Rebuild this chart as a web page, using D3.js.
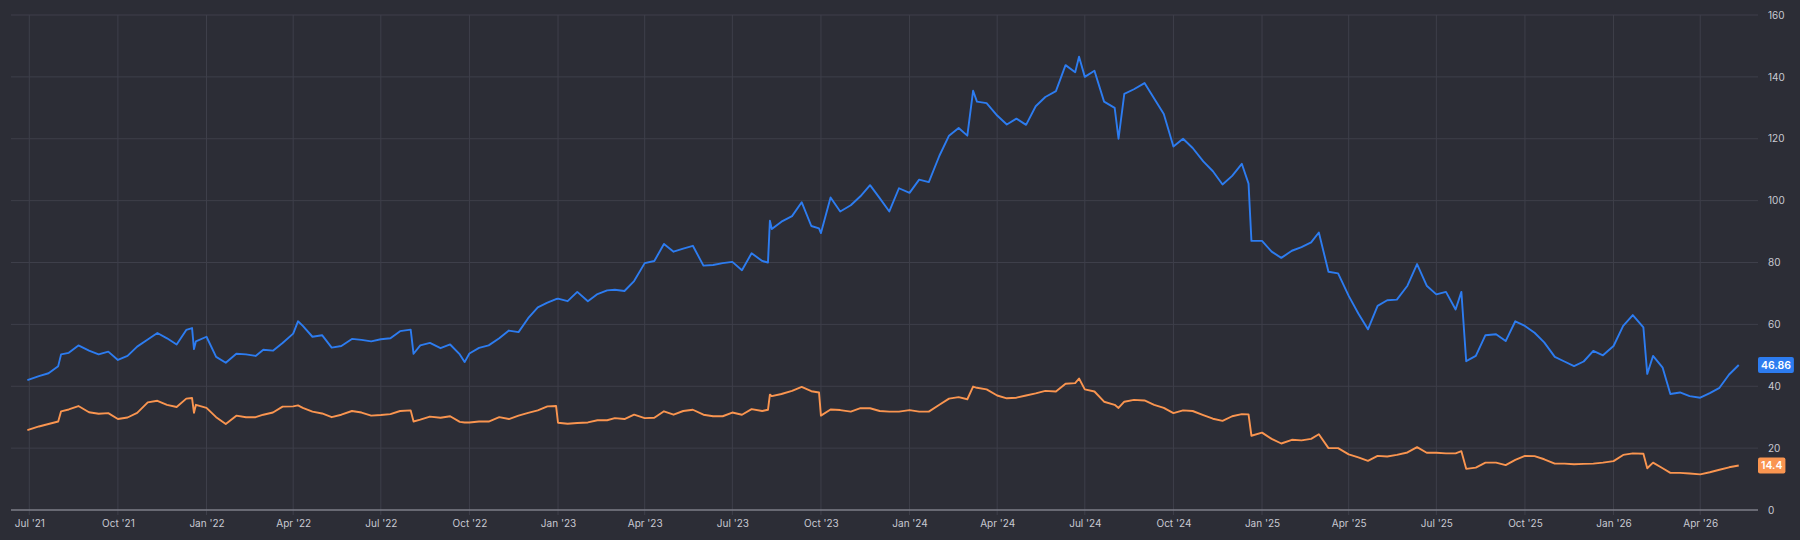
<!DOCTYPE html>
<html>
<head>
<meta charset="utf-8">
<script src="https://cdn.jsdelivr.net/npm/d3@7"></script>
<style>
  html, body { margin: 0; padding: 0; background: #2c2d36; }
  svg { display: block; }
</style>
</head>
<body>
<div id="chart"></div>
<script>
'use strict';
// two price series, sampled roughly every 10 days (plus a few extra points at the big gaps)

var dates = [
    "2021-06-29", "2021-07-11", "2021-07-21", "2021-07-31", "2021-08-03", "2021-08-11", "2021-08-21",
    "2021-09-01", "2021-09-11", "2021-09-21", "2021-10-01", "2021-10-11", "2021-10-21",
    "2021-11-01", "2021-11-11", "2021-11-21", "2021-12-01", "2021-12-11", "2021-12-17", "2021-12-19", "2021-12-21",
    "2022-01-01", "2022-01-11", "2022-01-21", "2022-02-01", "2022-02-11", "2022-02-21",
    "2022-03-01", "2022-03-11", "2022-03-21", "2022-04-01", "2022-04-06", "2022-04-11", "2022-04-21",
    "2022-05-01", "2022-05-11", "2022-05-21", "2022-06-01", "2022-06-11", "2022-06-21",
    "2022-07-01", "2022-07-11", "2022-07-21", "2022-08-01", "2022-08-04", "2022-08-11", "2022-08-21",
    "2022-09-01", "2022-09-11", "2022-09-21", "2022-09-26", "2022-10-01", "2022-10-11", "2022-10-21",
    "2022-11-01", "2022-11-11", "2022-11-21", "2022-12-01", "2022-12-11", "2022-12-21", "2022-12-30",
    "2023-01-01", "2023-01-11", "2023-01-21", "2023-02-01", "2023-02-11", "2023-02-21",
    "2023-03-01", "2023-03-11", "2023-03-21", "2023-04-01", "2023-04-11", "2023-04-21",
    "2023-05-01", "2023-05-11", "2023-05-21", "2023-06-01", "2023-06-11", "2023-06-21",
    "2023-07-01", "2023-07-11", "2023-07-21", "2023-08-01", "2023-08-07", "2023-08-09", "2023-08-11", "2023-08-21",
    "2023-09-01", "2023-09-11", "2023-09-21", "2023-09-29", "2023-10-01", "2023-10-11", "2023-10-21",
    "2023-11-01", "2023-11-11", "2023-11-21", "2023-12-01", "2023-12-11", "2023-12-21",
    "2024-01-01", "2024-01-11", "2024-01-21", "2024-02-01", "2024-02-11", "2024-02-21",
    "2024-03-01", "2024-03-07", "2024-03-11", "2024-03-21", "2024-04-01", "2024-04-11", "2024-04-21",
    "2024-05-01", "2024-05-11", "2024-05-21", "2024-06-01", "2024-06-11", "2024-06-21", "2024-06-25",
    "2024-07-01", "2024-07-11", "2024-07-21", "2024-08-01", "2024-08-05", "2024-08-11", "2024-08-21",
    "2024-09-01", "2024-09-11", "2024-09-21", "2024-10-01", "2024-10-11", "2024-10-21",
    "2024-11-01", "2024-11-11", "2024-11-21", "2024-12-01", "2024-12-11", "2024-12-18", "2024-12-21",
    "2025-01-01", "2025-01-11", "2025-01-21", "2025-02-01", "2025-02-11", "2025-02-21",
    "2025-03-01", "2025-03-11", "2025-03-21", "2025-04-01", "2025-04-11", "2025-04-21",
    "2025-05-01", "2025-05-11", "2025-05-21", "2025-06-01", "2025-06-11", "2025-06-21",
    "2025-07-01", "2025-07-11", "2025-07-21", "2025-07-27", "2025-08-01", "2025-08-11", "2025-08-21",
    "2025-09-01", "2025-09-11", "2025-09-21", "2025-10-01", "2025-10-11", "2025-10-21",
    "2025-11-01", "2025-11-11", "2025-11-21", "2025-12-01", "2025-12-11", "2025-12-21",
    "2026-01-01", "2026-01-11", "2026-01-21", "2026-02-01", "2026-02-05", "2026-02-11", "2026-02-21",
    "2026-03-01", "2026-03-11", "2026-03-21", "2026-04-01", "2026-04-11", "2026-04-21",
    "2026-05-01", "2026-05-11"
];

var blueValues = [
    42.0, 43.3, 44.2, 46.5, 50.3, 50.8, 53.2,
    51.5, 50.3, 51.2, 48.5, 49.8, 52.8,
    55.1, 57.2, 55.5, 53.5, 58.2, 58.8, 52.0, 54.5,
    56.0, 49.5, 47.6, 50.5, 50.3, 49.8,
    51.8, 51.5, 54.0, 57.0, 61.0, 59.5, 56.0,
    56.5, 52.5, 53.0, 55.3, 55.0, 54.5,
    55.2, 55.5, 57.8, 58.3, 50.5, 53.2, 54.0,
    52.3, 53.5, 50.3, 47.8, 50.6, 52.4, 53.2,
    55.5, 58.0, 57.5, 62.0, 65.5, 67.0, 68.2,
    68.3, 67.5, 70.5, 67.5, 69.8, 71.0,
    71.2, 70.8, 74.0, 79.8, 80.5, 86.0,
    83.5, 84.5, 85.4, 79.0, 79.2, 79.8,
    80.2, 77.5, 83.0, 80.5, 80.0, 93.5, 90.8, 93.2,
    95.0, 99.5, 91.8, 91.0, 89.5, 101.0, 96.5,
    98.5, 101.4, 105.0, 100.8, 96.5, 104.0,
    102.5, 106.8, 106.0, 114.5, 121.0, 123.5,
    121.0, 135.5, 132.0, 131.5, 127.5, 124.6, 126.5,
    124.5, 130.5, 133.5, 135.4, 143.8, 141.5, 146.5,
    140.0, 142.0, 132.0, 130.0, 120.0, 134.5, 136.0,
    138.0, 133.0, 128.0, 117.5, 120.0, 117.0,
    112.7, 109.5, 105.2, 108.0, 111.9, 105.5, 87.0,
    87.0, 83.5, 81.5, 83.8, 85.0, 86.5,
    89.7, 77.0, 76.5, 69.2, 63.5, 58.4,
    66.0, 67.8, 68.0, 72.5, 79.5, 72.5,
    69.7, 70.5, 64.8, 70.5, 48.1, 49.8, 56.5,
    56.8, 54.6, 61.0, 59.5, 57.3, 54.2,
    49.5, 48.0, 46.5, 48.0, 51.4, 50.0,
    53.0, 59.5, 63.0, 59.0, 44.0, 49.8, 46.0,
    37.5, 38.0, 36.8, 36.3, 37.8, 39.5,
    43.8, 46.86
];

var orangeValues = [
    25.8, 27.0, 27.8, 28.6, 31.9, 32.5, 33.6,
    31.6, 31.1, 31.3, 29.4, 29.9, 31.4,
    34.8, 35.3, 34.0, 33.3, 36.0, 36.2, 31.4, 34.0,
    33.0, 30.0, 27.8, 30.5, 30.0, 30.0,
    30.8, 31.5, 33.4, 33.5, 33.8, 33.0, 31.8,
    31.2, 30.0, 30.8, 32.0, 31.5, 30.5,
    30.7, 31.0, 32.0, 32.2, 28.6, 29.2, 30.2,
    29.8, 30.3, 28.5, 28.3, 28.3, 28.6, 28.6,
    30.0, 29.4, 30.5, 31.4, 32.2, 33.5, 33.6,
    28.2, 27.9, 28.1, 28.3, 29.0, 29.0,
    29.7, 29.4, 30.8, 29.7, 29.8, 31.9,
    30.8, 32.0, 32.4, 30.8, 30.3, 30.3,
    31.5, 30.8, 32.6, 32.0, 32.4, 37.3, 36.8, 37.5,
    38.5, 39.8, 38.4, 38.0, 30.5, 32.5, 32.3,
    31.8, 32.9, 32.9, 32.0, 31.8, 31.8,
    32.3, 31.8, 31.8, 34.0, 36.0, 36.5,
    35.8, 39.9, 39.5, 39.0, 37.0, 36.1, 36.3,
    37.0, 37.7, 38.5, 38.3, 40.8, 41.0, 42.5,
    39.0, 38.3, 35.0, 34.0, 33.0, 35.0, 35.6,
    35.4, 34.0, 33.0, 31.3, 32.2, 32.0,
    30.7, 29.5, 28.8, 30.3, 31.0, 30.9, 24.0,
    25.0, 23.0, 21.5, 22.7, 22.5, 23.0,
    24.5, 20.0, 20.0, 18.0, 17.0, 15.9,
    17.5, 17.3, 17.8, 18.6, 20.3, 18.5,
    18.5, 18.3, 18.3, 19.0, 13.3, 13.7, 15.3,
    15.3, 14.5, 16.2, 17.5, 17.4, 16.4,
    15.0, 15.0, 14.8, 14.9, 15.0, 15.3,
    15.8, 17.8, 18.3, 18.2, 13.5, 15.3, 13.5,
    12.0, 12.0, 11.8, 11.5, 12.2, 13.0,
    13.8, 14.4
];

var xTickDates = [
    "2021-07-01", "2021-10-01", "2022-01-01", "2022-04-01", "2022-07-01", "2022-10-01",
    "2023-01-01", "2023-04-01", "2023-07-01", "2023-10-01", "2024-01-01", "2024-04-01",
    "2024-07-01", "2024-10-01", "2025-01-01", "2025-04-01", "2025-07-01", "2025-10-01",
    "2026-01-01", "2026-04-01"
];
var yTicks = [0, 20, 40, 60, 80, 100, 120, 140, 160];

var blueColor = "#2d7cf0";
var orangeColor = "#fa9550";

var width = 1800, height = 540;
var margin = {top: 15, right: 42, bottom: 30, left: 11};
var fontFamily = "Inter, Roboto, 'DejaVu Sans', sans-serif";

var parse = d3.timeParse("%Y-%m-%d");
var blueData = dates.map(function(d, i) { return {date: parse(d), value: blueValues[i]}; });
var orangeData = dates.map(function(d, i) { return {date: parse(d), value: orangeValues[i]}; });

var svg = d3.select("#chart").append("svg")
    .attr("width", width)
    .attr("height", height);

svg.append("rect")
    .attr("width", width)
    .attr("height", height)
    .attr("fill", "#2c2d36");

var x = d3.scaleTime()
    .domain([parse("2021-06-12"), parse("2026-05-31")])
    .range([margin.left, width - margin.right]);
var y = d3.scaleLinear()
    .domain([0, 160])
    .range([height - margin.bottom, margin.top]);

// grid
var grid = svg.append("g");
grid.selectAll("line.h")
    .data(yTicks.filter(function(t) { return t > 0; }))
    .enter().append("line")
        .attr("class", "h")
        .attr("x1", margin.left)
        .attr("x2", width - margin.right)
        .attr("y1", function(d) { return y(d); })
        .attr("y2", function(d) { return y(d); })
        .attr("stroke", "#3e3f4a")
        .attr("stroke-width", 1);
grid.selectAll("line.v")
    .data(xTickDates.map(parse))
    .enter().append("line")
        .attr("class", "v")
        .attr("x1", function(d) { return x(d); })
        .attr("x2", function(d) { return x(d); })
        .attr("y1", y(160))
        .attr("y2", y(0) + 5)
        .attr("stroke", "#3e3f4a")
        .attr("stroke-width", 1);

// zero line
svg.append("line")
    .attr("x1", margin.left)
    .attr("x2", width - margin.right)
    .attr("y1", y(0))
    .attr("y2", y(0))
    .attr("stroke", "#7d7e88")
    .attr("stroke-width", 1.5);

// axes
var axisRight = svg.append("g")
    .attr("transform", "translate(" + (width - margin.right) + ",0)")
    .call(d3.axisRight(y).tickValues(yTicks).tickSize(0).tickPadding(10));
axisRight.select(".domain").remove();

var axisBottom = svg.append("g")
    .attr("transform", "translate(0," + y(0) + ")")
    .call(d3.axisBottom(x)
        .tickValues(xTickDates.map(parse))
        .tickFormat(d3.timeFormat("%b '%y"))
        .tickSize(0)
        .tickPadding(10));
axisBottom.select(".domain").remove();

svg.selectAll(".tick text")
    .attr("fill", "#c8c9d2")
    .style("font-family", fontFamily)
    .style("font-size", "10px");

// lines
var line = d3.line()
    .x(function(d) { return x(d.date); })
    .y(function(d) { return y(d.value); });

svg.append("path")
    .datum(orangeData)
    .attr("fill", "none")
    .attr("stroke", orangeColor)
    .attr("stroke-width", 1.9)
    .attr("stroke-linejoin", "round")
    .attr("d", line);

svg.append("path")
    .datum(blueData)
    .attr("fill", "none")
    .attr("stroke", blueColor)
    .attr("stroke-width", 1.9)
    .attr("stroke-linejoin", "round")
    .attr("d", line);

// last value badges on the right axis
function badge(data, color) {
    var last = data[data.length - 1];
    var g = svg.append("g")
        .attr("transform", "translate(" + (width - margin.right) + "," + y(last.value) + ")");
    var rect = g.append("rect")
        .attr("y", -8)
        .attr("height", 16)
        .attr("rx", 2)
        .attr("fill", color);
    var txt = g.append("text")
        .attr("x", 3)
        .attr("dy", "0.35em")
        .attr("fill", "#ffffff")
        .style("font-family", fontFamily)
        .style("font-size", "10.5px")
        .style("font-weight", "600")
        .text(String(last.value));
    var w = txt.node().getComputedTextLength();
    rect.attr("width", w + 6);
}
badge(blueData, blueColor);
badge(orangeData, orangeColor);
</script>
</body>
</html>
